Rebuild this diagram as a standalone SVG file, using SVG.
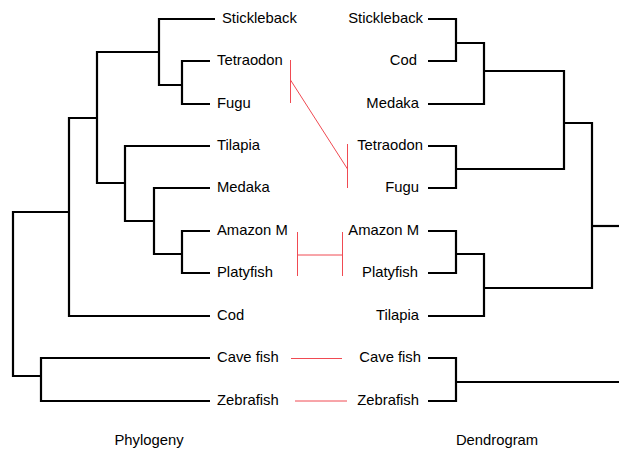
<svg xmlns="http://www.w3.org/2000/svg" width="619" height="449" viewBox="0 0 619 449">
<style>
.t{font-family:"Liberation Sans",Arial,sans-serif;font-size:14.8px;fill:#000}
.r{text-anchor:end}
.c{text-anchor:middle}
.e{fill:none;stroke:#000;stroke-width:2.2;stroke-linejoin:miter}
.m{fill:none;stroke:#f04a52;stroke-width:1}
</style>
<rect width="619" height="449" fill="#fff"/>
<g id="connectors">
<g id="phylogeny-edges">
<path class="e" d="M215,19 H159 V85 H182"/>
<path class="e" d="M210,61 H182 V104 H210"/>
<path class="e" d="M159,52 H97 V183 H125"/>
<path class="e" d="M210,146 H125 V221 H154"/>
<path class="e" d="M210,188 H154 V254 H182"/>
<path class="e" d="M210,231 H182 V273 H210"/>
<path class="e" d="M97,118 H69 V316 H210"/>
<path class="e" d="M69,212 H13 V376 H41"/>
<path class="e" d="M210,358 H41 V401 H210"/>
</g>
<g id="dendrogram-edges">
<path class="e" d="M428,19 H456 V61 H428"/>
<path class="e" d="M456,43 H484 V104 H428"/>
<path class="e" d="M484,71 H564 V169 H456"/>
<path class="e" d="M428,146 H456 V188 H428"/>
<path class="e" d="M564,123 H592 V288 H484"/>
<path class="e" d="M592,226 H620"/>
<path class="e" d="M428,231 H456 V273 H428"/>
<path class="e" d="M456,254 H484 V316 H428"/>
<path class="e" d="M428,358 H456 V401 H428"/>
<path class="e" d="M456,382 H620"/>
</g>
<g id="mapping-edges">
<path class="m" d="M290.5,60 V103 M290.5,80 L347.5,169 M347.5,144 V188"/>
<path class="m" d="M297.5,232 V276 M342.5,232 V276 M297.5,255 H342.5"/>
<path class="m" d="M291,358.5 H342"/>
<path class="m" d="M295,401 H347"/>
</g>
</g>
<g id="phylogeny-leaves">
<g id="p-stickleback"><text class="t" x="222" y="22.5">Stickleback</text></g>
<g id="p-tetraodon"><text class="t" x="217" y="64.5">Tetraodon</text></g>
<g id="p-fugu"><text class="t" x="217" y="107.5">Fugu</text></g>
<g id="p-tilapia"><text class="t" x="217" y="149.5">Tilapia</text></g>
<g id="p-medaka"><text class="t" x="217" y="191.5">Medaka</text></g>
<g id="p-amazon"><text class="t" x="217" y="234.5">Amazon M</text></g>
<g id="p-platyfish"><text class="t" x="217" y="276.5">Platyfish</text></g>
<g id="p-cod"><text class="t" x="217" y="319.5">Cod</text></g>
<g id="p-cavefish"><text class="t" x="217" y="361.5">Cave fish</text></g>
<g id="p-zebrafish"><text class="t" x="217" y="404.5">Zebrafish</text></g>
</g>
<g id="dendrogram-leaves">
<g id="d-stickleback"><text class="t r" x="423" y="22.5">Stickleback</text></g>
<g id="d-cod"><text class="t r" x="417" y="64.5">Cod</text></g>
<g id="d-medaka"><text class="t r" x="419" y="107.5">Medaka</text></g>
<g id="d-tetraodon"><text class="t r" x="423" y="149.5">Tetraodon</text></g>
<g id="d-fugu"><text class="t r" x="419" y="191.5">Fugu</text></g>
<g id="d-amazon"><text class="t r" x="419" y="234.5">Amazon M</text></g>
<g id="d-platyfish"><text class="t r" x="418" y="276.5">Platyfish</text></g>
<g id="d-tilapia"><text class="t r" x="419" y="319.5">Tilapia</text></g>
<g id="d-cavefish"><text class="t r" x="421" y="361.5">Cave fish</text></g>
<g id="d-zebrafish"><text class="t r" x="419" y="404.5">Zebrafish</text></g>
</g>
<g id="titles">
<text class="t c" x="149" y="445">Phylogeny</text>
<text class="t c" x="497" y="445">Dendrogram</text>
</g>
</svg>
